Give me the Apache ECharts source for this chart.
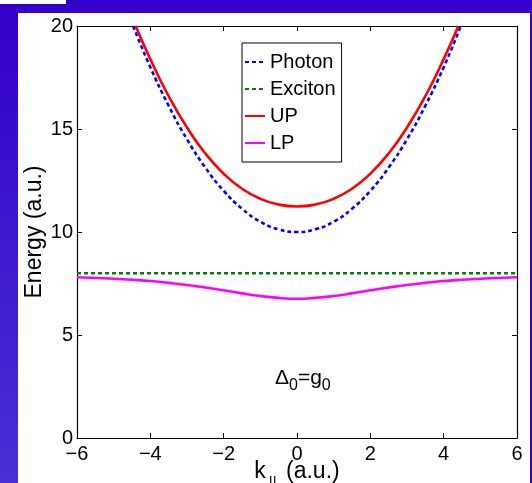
<!DOCTYPE html>
<html>
<head>
<meta charset="utf-8">
<script src="https://cdn.jsdelivr.net/npm/echarts@6/dist/echarts.min.js"></script>
<style>
  html, body { margin: 0; padding: 0; background: #fff; }
  #wrap { position: relative; width: 532px; height: 483px; overflow: hidden; background: #fff; }
  .bl { position: absolute; background: #3300cc; }
  #chart { position: absolute; left: 0; top: 0; width: 532px; height: 483px; }
</style>
</head>
<body>
<div id="wrap">
  <div class="bl" style="left:66px;top:0;width:466px;height:13px;"></div>
  <div class="bl" style="left:0;top:4px;width:532px;height:9px;"></div>
  <div class="bl" style="left:0;top:4px;width:18px;height:479px;background:linear-gradient(#3300cc,#4a30d4);"></div>
  <div class="bl" style="left:530px;top:0;width:2px;height:483px;"></div>
  <div id="chart"></div>
</div>
<script>
// k values (a.u.)
const kPhoton = [-4.47, -4, -3.5, -3, -2.5, -2, -1.5, -1, -0.5, 0, 0.5, 1, 1.5, 2, 2.5, 3, 3.5, 4, 4.47];
const ePhoton = [20, 18, 16.13, 14.5, 13.13, 12, 11.13, 10.5, 10.13, 10, 10.13, 10.5, 11.13, 12, 13.13, 14.5, 16.13, 18, 20];

const kExciton = [-6, 6];
const eExciton = [8, 8];

const kUP = [-4.4, -4, -3.5, -3, -2.5, -2, -1.5, -1, -0.5, 0, 0.5, 1, 1.5, 2, 2.5, 3, 3.5, 4, 4.4];
const eUP = [20, 18.39, 16.59, 15.07, 13.81, 12.83, 12.1, 11.61, 11.33, 11.24, 11.33, 11.61, 12.1, 12.83, 13.81, 15.07, 16.59, 18.39, 20];

const kLP = [-6, -5.5, -5, -4.5, -4, -3.5, -3, -2.5, -2, -1.5, -1, -0.5, 0, 0.5, 1, 1.5, 2, 2.5, 3, 3.5, 4, 4.5, 5, 5.5, 6];
const eLP = [7.8, 7.77, 7.73, 7.68, 7.62, 7.53, 7.43, 7.31, 7.17, 7.02, 6.89, 6.8, 6.76, 6.8, 6.89, 7.02, 7.17, 7.31, 7.43, 7.53, 7.62, 7.68, 7.73, 7.77, 7.8];

const xTicks = { min: -6, max: 6, interval: 2 };
const yTicks = { min: 0, max: 20, interval: 5 };

const seriesNames = ['Photon', 'Exciton', 'UP', 'LP'];

function pairs(xs, ys) { return xs.map((x, i) => [x, ys[i]]); }

const FONT = 'Liberation Sans';
const chart = echarts.init(document.getElementById('chart'), null, { renderer: 'canvas' });

const tickStyle = { show: true, inside: true, length: 5, lineStyle: { color: '#000', width: 1 } };
const lineAxis = { show: true, onZero: false, lineStyle: { color: '#000', width: 1.2 } };

chart.setOption({
  backgroundColor: 'transparent',
  animation: false,
  grid: { left: 77, right: 15, top: 26, bottom: 45, containLabel: false, outerBoundsMode: 'none' },
  legend: {
    data: seriesNames,
    orient: 'vertical',
    left: 242, top: 43,
    padding: [9, 6, 9, 2],
    itemWidth: 20, itemHeight: 14, itemGap: 7,
    itemStyle: { opacity: 0 },
    backgroundColor: '#fff', borderColor: '#000', borderWidth: 1,
    textStyle: { fontFamily: FONT, fontSize: 20, color: '#000', lineHeight: 20 }
  },
  xAxis: [{
    type: 'value', min: xTicks.min, max: xTicks.max, interval: xTicks.interval,
    position: 'bottom',
    axisLine: lineAxis, axisTick: tickStyle, splitLine: { show: false },
    axisLabel: { margin: 6, fontFamily: FONT, fontSize: 20, color: '#000',
      formatter: v => String(v).replace('-', '\u2212') },
    name: '{a|k}{s|||}{a| (a.u.)}', nameLocation: 'middle', nameGap: 16, nameMoveOverlap: false,
    nameTextStyle: { fontFamily: FONT, color: '#000',
      rich: { a: { fontFamily: FONT, fontSize: 23, color: '#000' },
              s: { fontFamily: FONT, fontSize: 15, color: '#000', padding: [21, 3, 0, 3] } } }
  }, {
    type: 'value', min: xTicks.min, max: xTicks.max, interval: xTicks.interval,
    position: 'top',
    axisLine: lineAxis, axisTick: tickStyle, splitLine: { show: false }, axisLabel: { show: false }
  }],
  yAxis: [{
    type: 'value', min: yTicks.min, max: yTicks.max, interval: yTicks.interval,
    position: 'left',
    axisLine: lineAxis, axisTick: tickStyle, splitLine: { show: false },
    axisLabel: { margin: 4, fontFamily: FONT, fontSize: 20, color: '#000' },
    name: 'Energy (a.u.)', nameLocation: 'middle', nameGap: 31, nameMoveOverlap: false,
    nameTextStyle: { fontFamily: FONT, fontSize: 23, color: '#000' }
  }, {
    type: 'value', min: yTicks.min, max: yTicks.max, interval: yTicks.interval,
    position: 'right',
    axisLine: lineAxis, axisTick: tickStyle, splitLine: { show: false }, axisLabel: { show: false }
  }],
  graphic: [{
    type: 'text', left: 275, top: 368,
    style: {
      text: '{b|\u0394}{s|0}{b|=g}{s|0}',
      rich: { b: { fontFamily: FONT, fontSize: 21, fill: '#000' },
              s: { fontFamily: FONT, fontSize: 16, fill: '#000', padding: [14, 0, 0, 0] } }
    }
  }],
  series: [
    { name: 'Photon', type: 'line', data: pairs(kPhoton, ePhoton), smooth: true, showSymbol: false, symbol: 'none',
      lineStyle: { color: '#0000ff', width: 2.6, type: [4, 3] }, itemStyle: { color: '#0000ff' } },
    { name: 'Exciton', type: 'line', data: pairs(kExciton, eExciton), showSymbol: false, symbol: 'none',
      lineStyle: { color: '#008000', width: 2.6, type: [4, 3] }, itemStyle: { color: '#008000' } },
    { name: 'UP', type: 'line', data: pairs(kUP, eUP), smooth: true, showSymbol: false, symbol: 'none',
      lineStyle: { color: '#ff0000', width: 2.6 }, itemStyle: { color: '#ff0000' } },
    { name: 'LP', type: 'line', data: pairs(kLP, eLP), smooth: true, showSymbol: false, symbol: 'none',
      lineStyle: { color: '#ff00ff', width: 2.6 }, itemStyle: { color: '#ff00ff' } }
  ]
});
</script>
</body>
</html>
